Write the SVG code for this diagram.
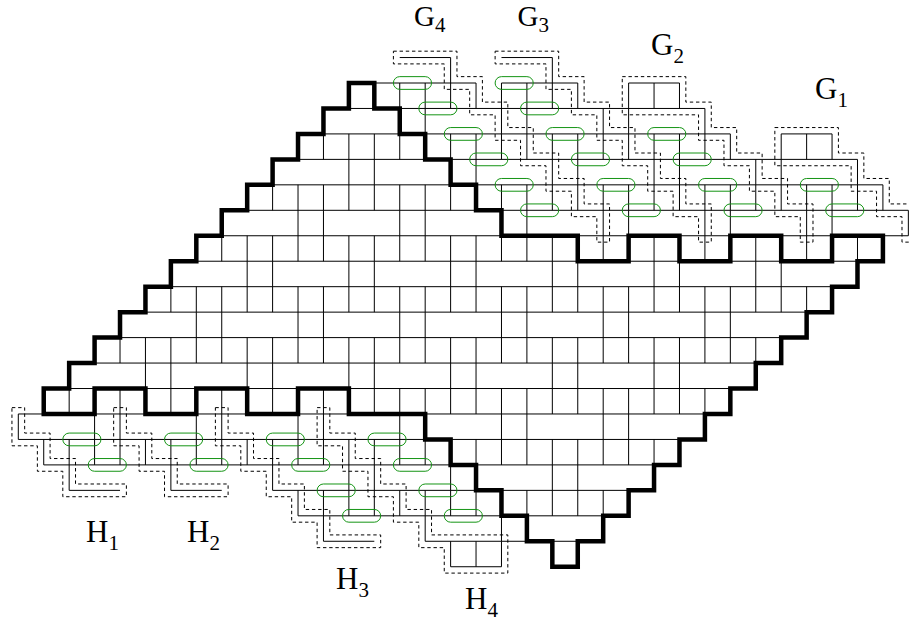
<svg xmlns="http://www.w3.org/2000/svg" width="909" height="624" viewBox="0 0 909 624">
<style>
path,rect{fill:none;vector-effect:non-scaling-stroke}
.g{stroke:#000;stroke-width:1}
.t{stroke:#000;stroke-width:4.5;stroke-linejoin:miter}
.d{stroke:#000;stroke-width:1;stroke-dasharray:3.4 2.8}
.o{stroke:#149414;stroke-width:1}
text{font-family:"Liberation Serif","Times New Roman",serif;font-size:31px;fill:#000}
tspan{font-size:21px}
.top{font-size:29px}
</style>
<rect x="0" y="0" width="909" height="624" style="fill:#fff;stroke:none"/>
<g id="board" transform="translate(18.3,83) scale(25.43,25.46)">
<g id="grid">
<path class="g" d="M15-1H17M19-1H21M14 0H18M19 0H22M24 0H26M13 1H27M12 2H28M30 2H32M11 3H33M10 4H34M9 5H35M8 6H35M7 7H33M6 8H33M5 9H32M4 10H31M3 11H30M2 12H29M0 13H28M0 14H27M1 15H26M2 16H4M6 16H8M10 16H25M11 17H24M12 18H14M16 18H23M17 19H19"/>
<path class="g" d="M17-1v1M21-1v1
M15 0v1M16 0v1M17 0v1M18 0v1M19 0v1M20 0v1M21 0v1M22 0v1M24 0v1M25 0v1M26 0v1
M16 1v1M19 1v1M20 1v1M23 1v1M24 1v1M27 1v1
M12 2v1M13 2v1M14 2v1M15 2v1M16 2v1M17 2v1M18 2v1M19 2v1M20 2v1M21 2v1M22 2v1M23 2v1M24 2v1M25 2v1M26 2v1M27 2v1M28 2v1M30 2v1M31 2v1M32 2v1
M13 3v1M14 3v1M18 3v1M21 3v1M22 3v1M25 3v1M26 3v1M29 3v1M30 3v1M33 3v1
M10 4v1M11 4v1M12 4v1M13 4v1M14 4v1M15 4v1M16 4v1M17 4v1M19 4v1M20 4v1M21 4v1M22 4v1M23 4v1M24 4v1M25 4v1M26 4v1M27 4v1M28 4v1M29 4v1M30 4v1M31 4v1M32 4v1M33 4v1M34 4v1
M11 5v1M12 5v1M15 5v1M16 5v1M20 5v1M23 5v1M24 5v1M27 5v1M28 5v1M31 5v1M32 5v1M35 5v1
M8 6v1M9 6v1M10 6v1M11 6v1M12 6v1M13 6v1M14 6v1M15 6v1M16 6v1M17 6v1M18 6v1M19 6v1M20 6v1M21 6v1M23 6v1M25 6v1M27 6v1M29 6v1M31 6v1M33 6v1
M9 7v1M10 7v1M13 7v1M14 7v1M17 7v1M18 7v1M21 7v1M22 7v1M25 7v1M26 7v1M29 7v1M30 7v1
M6 8v1M7 8v1M8 8v1M9 8v1M10 8v1M11 8v1M12 8v1M13 8v1M14 8v1M15 8v1M16 8v1M17 8v1M18 8v1M19 8v1M20 8v1M21 8v1M22 8v1M23 8v1M24 8v1M25 8v1M26 8v1M27 8v1M28 8v1M29 8v1M30 8v1M31 8v1
M7 9v1M8 9v1M11 9v1M12 9v1M15 9v1M16 9v1M19 9v1M20 9v1M23 9v1M24 9v1M27 9v1M28 9v1
M4 10v1M5 10v1M6 10v1M7 10v1M8 10v1M9 10v1M10 10v1M11 10v1M12 10v1M13 10v1M14 10v1M15 10v1M16 10v1M17 10v1M18 10v1M19 10v1M20 10v1M21 10v1M22 10v1M23 10v1M24 10v1M25 10v1M26 10v1M27 10v1M28 10v1M29 10v1
M5 11v1M6 11v1M9 11v1M10 11v1M13 11v1M14 11v1M17 11v1M18 11v1M21 11v1M22 11v1M25 11v1M26 11v1
M2 12v1M4 12v1M6 12v1M8 12v1M10 12v1M12 12v1M14 12v1M15 12v1M16 12v1M17 12v1M18 12v1M19 12v1M20 12v1M21 12v1M22 12v1M23 12v1M24 12v1M25 12v1M26 12v1M27 12v1
M0 13v1M3 13v1M4 13v1M7 13v1M8 13v1M11 13v1M12 13v1M15 13v1M19 13v1M20 13v1M23 13v1M24 13v1
M1 14v1M2 14v1M3 14v1M4 14v1M5 14v1M6 14v1M7 14v1M8 14v1M9 14v1M10 14v1M11 14v1M12 14v1M13 14v1M14 14v1M15 14v1M16 14v1M18 14v1M19 14v1M20 14v1M21 14v1M22 14v1M23 14v1M24 14v1M25 14v1
M2 15v1M6 15v1M10 15v1M13 15v1M14 15v1M17 15v1M21 15v1M22 15v1
M11 16v1M12 16v1M13 16v1M14 16v1M15 16v1M16 16v1M17 16v1M18 16v1M20 16v1M21 16v1M22 16v1M23 16v1
M12 17v1M16 17v1M19 17v1
M17 18v1M18 18v1M19 18v1"/>
</g>
<g id="outline">
<path class="t" d="M1 13V12H2V11H3V10H4V9H5V8H6V7H7V6H8V5H9V4H10V3H11V2H12V1H13V0H14V1H15V2H16V3H17V4H18V5H19V6H22V7H24V6H26V7H28V6H30V7H32V6H34V7H33V8H32V9H31V10H30V11H29V12H28V13H27V14H26V15H25V16H24V17H23V18H22V19H21V18H20V17H19V16H18V15H17V14H16V13H13V12H11V13H9V12H7V13H5V12H3V13Z"/>
</g>
<g id="dashed-regions">
<path id="G1-region" class="d" d="M29.75 1.75H32.25V2.75H33.25V3.75H34.25V4.75H35.25V6.25H34.75V5.25H33.75V4.25H32.75V3.25H29.75Z"/>
<path id="G2-region" class="d" d="M23.75-.25H26.25V.75H27.25V1.75H28.25V2.75H29.25V3.75H30.25V4.75H31.25V6.25H30.75V5.25H29.75V4.25H28.75V3.25H27.75V2.25H26.75V1.25H23.75Z"/>
<path id="G3-region" class="d" d="M18.75-1.25H21.25V-.25H22.25V.75H23.25V1.75H24.25V2.75H25.25V3.75H26.25V4.75H27.25V6.25H26.75V5.25H25.75V4.25H24.75V3.25H23.75V2.25H22.75V1.25H21.75V.25H20.75V-.75H18.75Z"/>
<path id="G4-region" class="d" d="M14.75-1.25H17.25V-.25H18.25V.75H19.25V1.75H20.25V2.75H21.25V3.75H22.25V4.75H23.25V6.25H22.75V5.25H21.75V4.25H20.75V3.25H19.75V2.25H18.75V1.25H17.75V.25H16.75V-.75H14.75Z"/>
<path id="H1-region" class="d" d="M-.25 12.75H.25V13.75H1.25V14.75H2.25V15.75H4.25V16.25H1.75V15.25H.75V14.25H-.25Z"/>
<path id="H2-region" class="d" d="M3.75 12.75H4.25V13.75H5.25V14.75H6.25V15.75H8.25V16.25H5.75V15.25H4.75V14.25H3.75Z"/>
<path id="H3-region" class="d" d="M7.75 12.75H8.25V13.75H9.25V14.75H10.25V15.75H11.25V16.75H12.25V17.75H14.25V18.25H11.75V17.25H10.75V16.25H9.75V15.25H8.75V14.25H7.75Z"/>
<path id="H4-region" class="d" d="M11.75 12.75H12.25V13.75H13.25V14.75H14.25V15.75H15.25V16.75H16.25V17.75H19.25V19.25H16.75V18.25H15.75V17.25H14.75V16.25H13.75V15.25H12.75V14.25H11.75Z"/>
</g>
<g id="ovals">
<rect class="o" x="14.75" y="-.25" width="1.5" height=".5" rx=".25" ry=".25"/>
<rect class="o" x="15.75" y=".75" width="1.5" height=".5" rx=".25" ry=".25"/>
<rect class="o" x="16.75" y="1.75" width="1.5" height=".5" rx=".25" ry=".25"/>
<rect class="o" x="17.75" y="2.75" width="1.5" height=".5" rx=".25" ry=".25"/>
<rect class="o" x="18.75" y="3.75" width="1.5" height=".5" rx=".25" ry=".25"/>
<rect class="o" x="19.75" y="4.75" width="1.5" height=".5" rx=".25" ry=".25"/>
<rect class="o" x="18.75" y="-.25" width="1.5" height=".5" rx=".25" ry=".25"/>
<rect class="o" x="19.75" y=".75" width="1.5" height=".5" rx=".25" ry=".25"/>
<rect class="o" x="20.75" y="1.75" width="1.5" height=".5" rx=".25" ry=".25"/>
<rect class="o" x="21.75" y="2.75" width="1.5" height=".5" rx=".25" ry=".25"/>
<rect class="o" x="22.75" y="3.75" width="1.5" height=".5" rx=".25" ry=".25"/>
<rect class="o" x="23.75" y="4.75" width="1.5" height=".5" rx=".25" ry=".25"/>
<rect class="o" x="24.75" y="1.75" width="1.5" height=".5" rx=".25" ry=".25"/>
<rect class="o" x="25.75" y="2.75" width="1.5" height=".5" rx=".25" ry=".25"/>
<rect class="o" x="26.75" y="3.75" width="1.5" height=".5" rx=".25" ry=".25"/>
<rect class="o" x="27.75" y="4.75" width="1.5" height=".5" rx=".25" ry=".25"/>
<rect class="o" x="30.75" y="3.75" width="1.5" height=".5" rx=".25" ry=".25"/>
<rect class="o" x="31.75" y="4.75" width="1.5" height=".5" rx=".25" ry=".25"/>
<rect class="o" x="1.75" y="13.75" width="1.5" height=".5" rx=".25" ry=".25"/>
<rect class="o" x="2.75" y="14.75" width="1.5" height=".5" rx=".25" ry=".25"/>
<rect class="o" x="5.75" y="13.75" width="1.5" height=".5" rx=".25" ry=".25"/>
<rect class="o" x="6.75" y="14.75" width="1.5" height=".5" rx=".25" ry=".25"/>
<rect class="o" x="9.75" y="13.75" width="1.5" height=".5" rx=".25" ry=".25"/>
<rect class="o" x="10.75" y="14.75" width="1.5" height=".5" rx=".25" ry=".25"/>
<rect class="o" x="11.75" y="15.75" width="1.5" height=".5" rx=".25" ry=".25"/>
<rect class="o" x="12.75" y="16.75" width="1.5" height=".5" rx=".25" ry=".25"/>
<rect class="o" x="13.75" y="13.75" width="1.5" height=".5" rx=".25" ry=".25"/>
<rect class="o" x="14.75" y="14.75" width="1.5" height=".5" rx=".25" ry=".25"/>
<rect class="o" x="15.75" y="15.75" width="1.5" height=".5" rx=".25" ry=".25"/>
<rect class="o" x="16.75" y="16.75" width="1.5" height=".5" rx=".25" ry=".25"/>
</g>
</g>
<g id="labels">
<text class="top" x="414" y="26">G<tspan dy="5.5">4</tspan></text>
<text class="top" x="517.5" y="26">G<tspan dy="5.5">3</tspan></text>
<text x="651" y="55">G<tspan dy="7.5">2</tspan></text>
<text x="815" y="99">G<tspan dy="7.5">1</tspan></text>
<text x="86" y="542">H<tspan dy="7.5">1</tspan></text>
<text x="187" y="542">H<tspan dy="7.5">2</tspan></text>
<text x="336" y="589">H<tspan dy="7.5">3</tspan></text>
<text x="465" y="609">H<tspan dy="7.5">4</tspan></text>
</g>
</svg>
